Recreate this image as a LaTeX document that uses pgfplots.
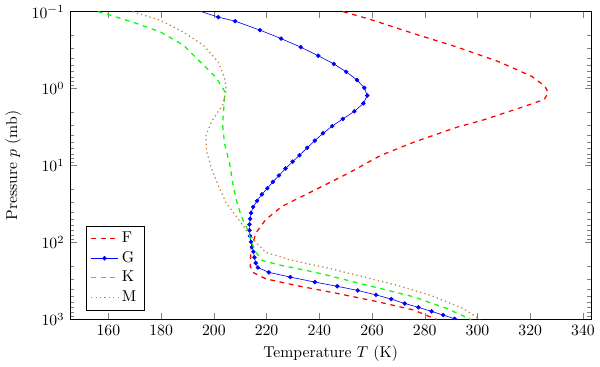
\documentclass[border=0pt]{standalone}
\usepackage{pgfplots}
\pgfplotsset{compat=1.18}
\begin{document}
\begin{tikzpicture}
\begin{axis}[
  scale only axis,
  width=332pt, height=196pt,
  xmin=145.4, xmax=343.2,
  ymode=log, ymin=0.1, ymax=1000, y dir=reverse,
  xtick={160,180,...,340},
  xlabel={Temperature $T$ (K)},
  ylabel={Pressure $p$ (mb)},
  legend pos=south west,
  legend cell align=left,
  clip marker paths=true,
]
\addplot[red, dashed, thick] coordinates {
(249.0,0.1) (259.6,0.127) (275.8,0.193) (292.0,0.287) (308.1,0.447) (320.6,0.695)
(325.6,0.935) (326.8,1.135) (325.3,1.384) (318.1,1.687) (303.2,2.495) (292.0,3.19)
(275.8,4.97) (263.3,7.38) (250.8,12.68) (238.4,20.7) (225.9,33.8) (219.7,50.2)
(216.0,74.5) (214.1,121.9) (213.8,199) (214.7,243) (219.7,296) (232.1,366)
(247.1,460) (262.1,587) (275.8,752) (284.5,1000)
};
\addlegendentry{F}
\addplot[blue, mark=*, mark size=1.2pt, mark options={solid}] coordinates {
(186.7,0.08) (201.7,0.118) (208.1,0.133) (217.5,0.174) (225.5,0.224) (233.0,0.290)
(239.6,0.374) (245.5,0.478) (250.2,0.605) (254.3,0.773) (257.1,0.979) (258.2,1.230)
(256.7,1.557) (253.3,1.971) (248.9,2.475) (244.9,3.07) (241.4,3.81) (238.3,4.74)
(235.4,5.88) (232.5,7.33) (229.9,8.89) (227.2,10.92) (224.7,13.43) (222.4,16.28)
(220.3,19.72) (218.2,23.66) (216.4,28.7) (214.9,34.5) (214.1,41.2) (213.8,49.2)
(213.5,58.2) (213.5,69.2) (213.7,82.0) (214.1,97.9) (214.5,114.2) (215.0,131.6)
(215.4,155.6) (215.9,184.2) (216.7,211) (220.9,244) (229.0,281) (238.3,326)
(246.8,370) (254.6,419) (261.5,478) (267.3,543) (272.4,618) (277.6,695)
(282.6,785) (287.0,875) (291.3,979)
};
\addlegendentry{G}
\addplot[green, dashed, thick] coordinates {
(156.0,0.1) (161.1,0.112) (171.1,0.144) (179.8,0.184) (188.5,0.273) (196.0,0.492)
(201.0,0.729) (204.1,1.084) (203.9,1.60) (203.3,2.90) (204.1,5.23) (206.0,9.42)
(207.2,17.0) (208.5,27.8) (210.4,45.5) (212.8,67.5) (214.1,95.1) (215.7,130.3)
(218.4,171.8) (225.9,199) (238.4,243) (250.8,310) (263.3,397) (275.8,507)
(288.2,716) (297.6,1000)
};
\addlegendentry{K}
\addplot[brown, dotted, thick] coordinates {
(169.2,0.1) (179.8,0.130) (188.5,0.184) (196.0,0.273) (201.6,0.447) (204.1,0.729)
(204.7,1.03) (203.5,1.60) (199.3,2.62) (197.0,4.06) (197.3,6.62) (199.1,10.9)
(201.6,17.9) (204.7,30.7) (208.5,45.5) (212.5,70.2) (216.0,100) (219.7,134)
(229.0,168) (244.6,220) (257.1,281) (269.5,359) (282.0,482) (294.5,716) (301.0,1000)
};
\addlegendentry{M}
\end{axis}
\end{tikzpicture}
\end{document}
